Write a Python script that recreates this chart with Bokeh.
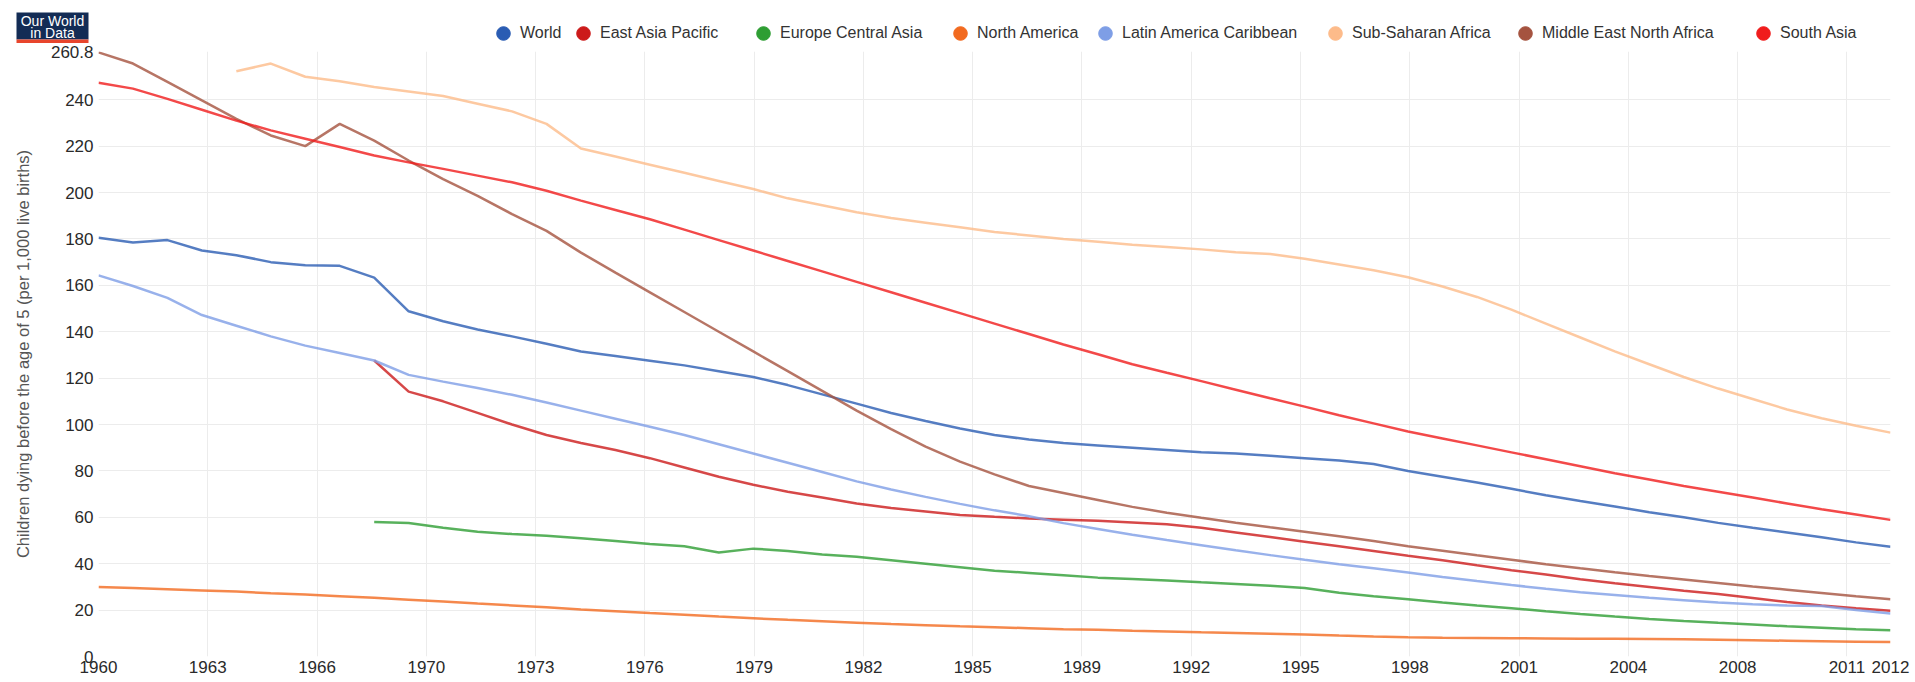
from bokeh.plotting import figure
from bokeh.layouts import column
from bokeh.models import (FixedTicker, CustomJSTickFormatter, Legend, LegendItem,
                          Label, BoxAnnotation, Range1d)
from bokeh.embed import file_html
from bokeh.resources import INLINE

# ---------------- data ----------------
years_all = list(range(1960, 2013))
years_1964 = list(range(1964, 2013))
years_1968 = list(range(1968, 2013))

world = [180.5, 178.5, 179.5, 175, 173, 170, 168.7, 168.4, 163.3, 148.8,
         144.5, 141, 138, 134.8, 131.5, 129.5, 127.5, 125.5, 123, 120.5,
         117, 113, 109, 105, 101.5, 98.3, 95.5, 93.5, 92, 91,
         90, 89, 88, 87.5, 86.5, 85.5, 84.5, 83, 80, 77.5,
         75, 72.3, 69.5, 67, 64.7, 62.2, 60, 57.6, 55.5, 53.5,
         51.4, 49.2, 47.3]

east_asia_pacific = [127.6, 114.2,
                     110, 105, 100, 95.5, 92, 89, 85.5, 81.5, 77.5, 74,
                     71, 68.5, 66, 64, 62.5, 61, 60.2, 59.5, 59, 58.5,
                     57.8, 57, 55.5, 53.5, 51.5, 49.5, 47.5, 45.5, 43.4, 41.5,
                     39.3, 37.2, 35.3, 33.3, 31.6, 30, 28.3, 26.9, 25.2, 23.5,
                     22, 20.8, 19.7]

europe_central_asia = [58, 57.5,
                       55.5, 53.8, 52.8, 52, 51, 49.8, 48.5, 47.5, 44.8, 46.5,
                       45.5, 44, 43, 41.5, 40, 38.5, 37, 36, 35, 34,
                       33.4, 32.8, 32, 31.3, 30.5, 29.5, 27.5, 26, 24.7, 23.3,
                       22, 20.8, 19.5, 18.3, 17.2, 16.2, 15.3, 14.5, 13.8, 13,
                       12.4, 11.8, 11.3]

north_america = [30, 29.5, 29, 28.5, 28, 27.3, 26.7, 26, 25.3, 24.5,
                 23.7, 22.8, 22, 21.2, 20.3, 19.5, 18.7, 18, 17.2, 16.5,
                 15.8, 15.2, 14.6, 14, 13.5, 13, 12.6, 12.2, 11.8, 11.5,
                 11.1, 10.8, 10.4, 10.1, 9.8, 9.5, 9.0, 8.6, 8.3, 8.1,
                 8.0, 7.9, 7.8, 7.7, 7.6, 7.5, 7.4, 7.2, 7.0, 6.8,
                 6.6, 6.4, 6.2]

latin_america_caribbean = [164.3, 159.7, 154.6, 147.2, 142.6, 138, 134, 130.8, 127.6, 121.4,
                           118.5, 115.7, 112.8, 109.5, 106, 102.5, 99, 95.5, 91.5, 87.5,
                           83.5, 79.5, 75.5, 72, 68.8, 65.8, 63, 60.5, 57.5, 55,
                           52.5, 50.2, 48, 45.8, 43.7, 41.7, 39.8, 38, 36.2, 34.3,
                           32.5, 30.8, 29.2, 27.7, 26.5, 25.3, 24.3, 23.3, 22.5, 22,
                           21.8, 20, 18.5]

sub_saharan_africa = [252.3, 255.6, 249.9, 248, 245.5, 243.6,
                      241.6, 238.3, 235, 229.6, 219, 215.5, 212, 208.5, 205, 201.5,
                      197.5, 194.5, 191.5, 189, 187, 185, 183, 181.5, 180, 178.8,
                      177.5, 176.5, 175.5, 174.3, 173.5, 171.5, 169, 166.5, 163.5, 159.5,
                      155, 149.5, 143.5, 137.5, 131.5, 126, 120.5, 115.5, 111, 106.5,
                      102.7, 99.5, 96.5]

middle_east_north_africa = [260.4, 255.6, 247.7, 239.7, 231.8, 224.6, 220, 229.6, 222.4, 213.8,
                            205.8, 198.6, 190.7, 183.5, 174.1, 165.5, 157, 148.5, 140, 131.5,
                            123, 114.5, 106, 98, 90.5, 84, 78.5, 73.5, 70.5, 67.5,
                            64.5, 62, 59.8, 57.7, 55.7, 53.8, 51.8, 49.8, 47.5, 45.6,
                            43.6, 41.7, 39.8, 38, 36.3, 34.7, 33.2, 31.7, 30.2, 28.8,
                            27.4, 26, 24.7]

south_asia = [247.3, 244.8, 240.4, 235.7, 231, 226.8, 223.2, 219.6, 216, 213,
              210.2, 207.3, 204.4, 200.8, 196.5, 192.5, 188.5, 184, 179.5, 175,
              170.5, 166, 161.5, 157, 152.5, 148, 143.5, 139, 134.5, 130.3,
              126, 122.3, 118.7, 115, 111.3, 107.7, 104, 100.5, 97, 94,
              91, 88, 85, 82, 79, 76.3, 73.5, 71, 68.5, 66,
              63.5, 61.2, 58.9]

series_names = ["World", "East Asia Pacific", "Europe Central Asia", "North America",
                "Latin America Caribbean", "Sub-Saharan Africa",
                "Middle East North Africa", "South Asia"]

x_tick_labels = ["1960", "1963", "1966", "1970", "1973", "1976", "1979", "1982", "1985",
                 "1989", "1992", "1995", "1998", "2001", "2004", "2008", "2011", "2012"]
y_tick_values = [0, 20, 40, 60, 80, 100, 120, 140, 160, 180, 200, 220, 240, 260.8]
y_tick_labels = ["0", "20", "40", "60", "80", "100", "120", "140", "160", "180",
                 "200", "220", "240", "260.8"]

# ---------------- styling / layout ----------------
colors = ["#2a5cb3", "#cc1a1a", "#2e9e33", "#f26a1f", "#7e9ee6", "#fdbb8a", "#a5533f", "#f01c1c"]
legend_text_x = [520, 600, 780, 977, 1122, 1352, 1542, 1780]   # page x where legend texts start
FONT = "Liberation Sans"
W = 1915
HEADER_H = 43
MAIN_H = 637
GW, GH = 34, 34

x_tick_pos = [1960 + k * 3.171 for k in range(17)] + [2012]

# ---- header: logo + legend ----
hdr = figure(width=W, height=HEADER_H, x_range=Range1d(0, W), y_range=Range1d(HEADER_H, 0),
             output_backend="svg", toolbar_location=None,
             x_axis_type=None, y_axis_type=None,
             min_border_left=0, min_border_right=0, min_border_top=0, min_border_bottom=0)
hdr.frame_align = False
hdr.outline_line_color = None
hdr.xgrid.visible = False
hdr.ygrid.visible = False

hdr.add_layout(BoxAnnotation(left=16, right=88, top=12, bottom=39,
                             fill_color="#132c55", fill_alpha=1, line_color=None))
hdr.add_layout(BoxAnnotation(left=16, right=88, top=39, bottom=45,
                             fill_color="#e8452c", fill_alpha=1, line_color=None))
hdr.add_layout(Label(x=52, y=20.5, text="Our World", text_align="center", text_baseline="middle",
                     text_color="white", text_font=FONT, text_font_size="14px"))
hdr.add_layout(Label(x=52, y=32, text="in Data", text_align="center", text_baseline="middle",
                     text_color="white", text_font=FONT, text_font_size="14px"))

# ---- main chart ----
p = figure(width=W, height=MAIN_H, x_range=(1960, 2012), y_range=(0, 260.8),
           output_backend="svg", toolbar_location=None,
           min_border_left=98, min_border_right=25, min_border_top=8, min_border_bottom=24)
p.frame_align = False
p.outline_line_color = None
p.background_fill_color = "white"

p.xaxis.ticker = FixedTicker(ticks=x_tick_pos)
p.xaxis.formatter = CustomJSTickFormatter(
    args=dict(pos=x_tick_pos, labels=x_tick_labels),
    code="const i = pos.findIndex(t => Math.abs(t - tick) < 1e-6); return i >= 0 ? labels[i] : '';")
p.yaxis.ticker = FixedTicker(ticks=y_tick_values)
p.yaxis.formatter = CustomJSTickFormatter(
    args=dict(pos=y_tick_values, labels=y_tick_labels),
    code="const i = pos.findIndex(t => Math.abs(t - tick) < 1e-6); return i >= 0 ? labels[i] : '';")
for ax in (p.xaxis[0], p.yaxis[0]):
    ax.axis_line_color = None
    ax.major_tick_line_color = None
    ax.minor_tick_line_color = None
    ax.major_tick_out = 0
    ax.major_tick_in = 0
    ax.major_label_text_font = FONT
    ax.major_label_text_font_size = "17px"
    ax.major_label_text_color = "#2a2a2a"
p.xaxis.major_label_standoff = 4
p.yaxis.major_label_standoff = 5
p.yaxis.axis_label = "Children dying before the age of 5 (per 1,000 live births)"
p.yaxis.axis_label_text_font = FONT
p.yaxis.axis_label_text_font_size = "16.5px"
p.yaxis.axis_label_text_font_style = "normal"
p.yaxis.axis_label_text_color = "#555555"
p.yaxis.axis_label_standoff = 16

p.xgrid.grid_line_color = "#ececec"
p.ygrid.grid_line_color = "#ececec"

xs_list = [years_all, years_1968, years_1968, years_all, years_all, years_1964, years_all, years_all]
ys_list = [world, east_asia_pacific, europe_central_asia, north_america,
           latin_america_caribbean, sub_saharan_africa, middle_east_north_africa, south_asia]

for name, xs, ys, col, tx in zip(series_names, xs_list, ys_list, colors, legend_text_x):
    p.line(xs, ys, line_color=col, line_width=2.5, line_alpha=0.8)
    # legend-only marker renderer: one point kept outside the header's visible range
    dot = hdr.scatter(x=[-100], y=[-100], size=0, marker="circle", fill_color=col, line_color=col)
    leg = Legend(items=[LegendItem(label=name, renderers=[dot])],
                 location=(tx - GW, -7), orientation="horizontal",
                 glyph_width=GW, glyph_height=GH, label_standoff=0,
                 padding=0, margin=0, spacing=0,
                 border_line_color=None, background_fill_alpha=0,
                 label_text_font=FONT, label_text_font_size="16px",
                 label_text_color="#333333")
    hdr.add_layout(leg)

layout = column(hdr, p, spacing=0)
open("out.html", "w").write(file_html(layout, INLINE))
